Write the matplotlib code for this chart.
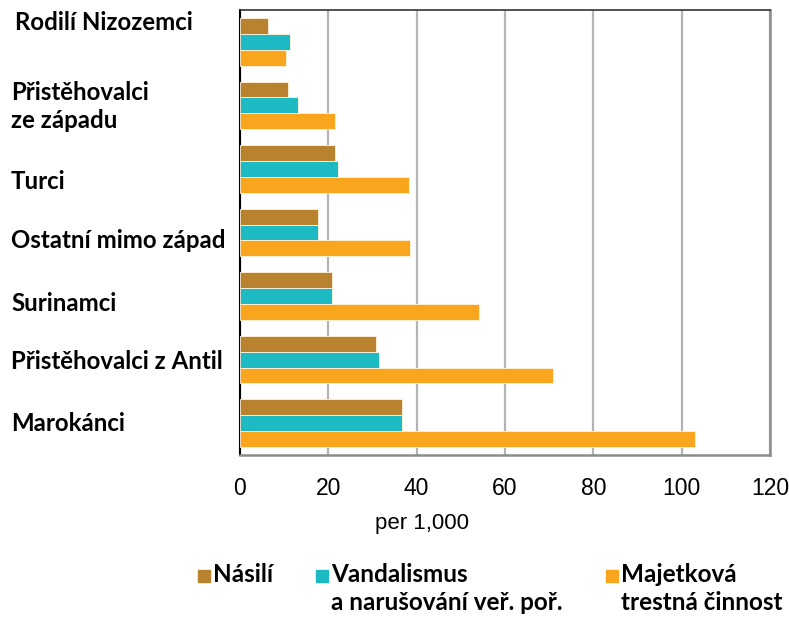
"""
grouped horizontal bars - crime rates per 1,000 by origin group
"""

import matplotlib.pyplot as plt
from matplotlib.patches import Rectangle
from matplotlib.transforms import blended_transform_factory

# data
# --------------------------
categories = ["Rodilí Nizozemci", "Přistěhovalci\nze západu", "Turci", "Ostatní mimo západ",
              "Surinamci", "Přistěhovalci z Antil", "Marokánci"]
nasili = [6.3, 10.9, 21.4, 17.7, 20.9, 30.9, 36.7]
vandalismus = [11.4, 13.2, 22.3, 17.7, 20.9, 31.4, 36.7]
majetkova = [10.4, 21.4, 38.2, 38.6, 54.1, 70.9, 103.0]

series_labels = ["Násilí", "Vandalismus\na narušování veř. poř.", "Majetková\ntrestná činnost"]
colors = ["#B8822F", "#1EBAC4", "#F9A61E"]

x_ticks = [0, 20, 40, 60, 80, 100, 120]

# label nudges (fraction of a category row), the source places them by hand
label_dy = [-0.31, 0.02, 0.19, 0.13, 0.11, 0.03, 0.0]

label_font = "Lato"

# plotting
# --------------------------
fig = plt.figure(figsize=(7.89, 6.20), dpi=100)
ax = fig.add_axes([240 / 789, 1 - 455 / 620, 530 / 789, 445 / 620])

bar_h = 0.25
pos = list(range(len(categories)))
for values, offset, color in zip([nasili, vandalismus, majetkova], [-bar_h, 0, bar_h], colors):
    ax.barh([p + offset for p in pos], values, height=bar_h, color=color,
            edgecolor="#fff3dc", linewidth=0.6, zorder=3)

ax.set_xlim(0, 120)
ax.set_ylim(len(categories) - 0.5, -0.5)
ax.set_xticks(x_ticks)
ax.set_xticklabels([str(t) for t in x_ticks], fontsize=16.5, family="Liberation Sans")
ax.tick_params(axis="x", length=0, pad=16)
ax.set_yticks([])
ax.grid(axis="x", color="#b4b4b4", linewidth=1.6, zorder=0)

ax.spines["left"].set_color("black")
ax.spines["left"].set_linewidth(1.5)
ax.spines["top"].set_color("#333333")
ax.spines["top"].set_linewidth(1.2)
for side in ["right", "bottom"]:
    ax.spines[side].set_color("#8c8c8c")
    ax.spines[side].set_linewidth(1.8)

# category labels, left aligned at the figure edge
label_trans = blended_transform_factory(fig.transFigure, ax.transData)
for p, label, dy in zip(pos, categories, label_dy):
    x_px = 15 if p == 0 else 11
    ax.text(x_px / 789, p + dy, label, transform=label_trans,
            ha="left", va="center", fontsize=17.3, fontweight="bold", family=label_font,
            linespacing=1.3)

fig.text(422 / 789, 1 - 524 / 620, "per 1,000", ha="center", va="center",
         fontsize=16, family="Liberation Sans")

# legend, drawn by hand so the swatch sits next to the first line
legend_x = [198, 316, 606]
legend_y = 576
for lx, label, color in zip(legend_x, series_labels, colors):
    fig.add_artist(Rectangle((lx / 789, 1 - (legend_y + 6) / 620), 12 / 789, 12 / 620,
                             transform=fig.transFigure, color=color))
    fig.text((lx + 15) / 789, 1 - (legend_y - 13) / 620, label, ha="left", va="top",
             fontsize=17.5, fontweight="bold", family=label_font, linespacing=1.25)

fig.savefig("out.png", dpi=100)
